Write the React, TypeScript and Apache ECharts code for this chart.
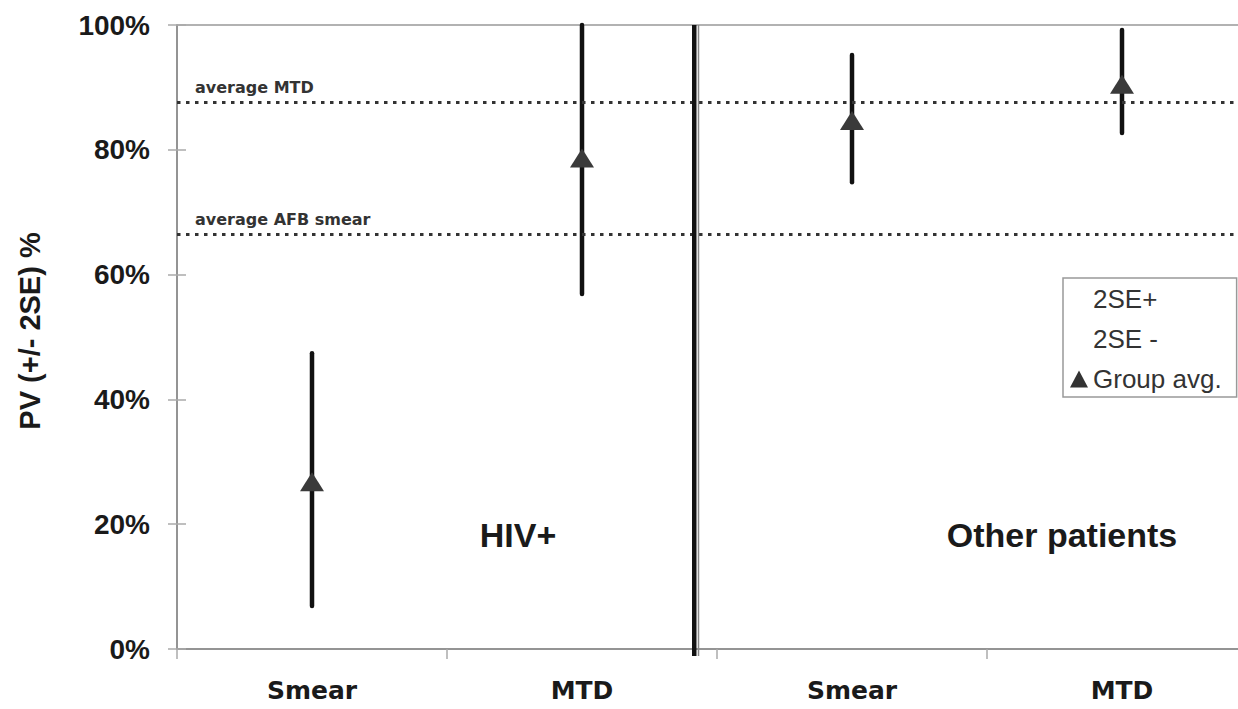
import React, { useEffect, useRef } from "react";
import * as echarts from "echarts";

const categories = ["Smear", "MTD", "Smear ", "MTD "];
const groupAvg = [26.8, 78.7, 84.7, 90.5];
const upper2SE = [47.4, 100, 95.2, 99.2];
const lower2SE = [6.9, 56.9, 74.8, 82.7];
const refLines = [
  { name: "average MTD", value: 87.6 },
  { name: "average AFB smear", value: 66.4 },
];
const yTicks = [0, 20, 40, 60, 80, 100];
const groupLabels = ["HIV+", "Other patients"];

const BOLD = "'Liberation Sans', Arial, sans-serif";

export default function App() {
  const ref = useRef<HTMLDivElement>(null);
  useEffect(() => {
    if (!ref.current) return;
    const chart = echarts.init(ref.current, null, { renderer: "svg" });
    const barRender = (params: any, api: any) => {
      const p1 = api.coord([api.value(0), api.value(1)]);
      const p2 = api.coord([api.value(0), api.value(2)]);
      return {
        type: "line",
        shape: { x1: p1[0], y1: p1[1], x2: p2[0], y2: p2[1] },
        style: { stroke: "#111", lineWidth: 4.5, lineCap: "round" },
      };
    };
    chart.setOption({
      animation: false,
      backgroundColor: "#fff",
      grid: {
        left: 177,
        top: 25,
        right: 0,
        bottom: 60,
        show: true,
        borderColor: "#999",
        borderWidth: 1.5,
        backgroundColor: "transparent",
      },
      legend: {
        orient: "vertical",
        left: 1063,
        top: 278,
        padding: [8, 15, 5, 7],
        itemWidth: 18,
        itemHeight: 17,
        itemGap: 14,
        borderColor: "#999",
        borderWidth: 1.5,
        backgroundColor: "#fff",
        selectedMode: false,
        textStyle: { fontFamily: BOLD, fontSize: 26, color: "#333" },
        data: [
          { name: "2SE+", icon: "rect", itemStyle: { color: "transparent", opacity: 0 } },
          { name: "2SE -", icon: "rect", itemStyle: { color: "transparent", opacity: 0 } },
          { name: "Group avg.", icon: "triangle", itemStyle: { color: "#333" } },
        ],
      },
      xAxis: {
        type: "category",
        data: categories,
        boundaryGap: true,
        axisLine: { lineStyle: { color: "#8a8a8a", width: 1.5 } },
        axisTick: { show: true, length: 10, lineStyle: { color: "#aaa", width: 1.5 } },
        axisLabel: {
          margin: 29,
          fontFamily: "'DejaVu Sans', sans-serif",
          fontWeight: "bold",
          fontSize: 25,
          color: "#1a1a1a",
          formatter: (v: string) => v.trim(),
        },
        splitLine: { show: false },
      },
      yAxis: [
        {
          type: "value",
          min: yTicks[0],
          max: yTicks[yTicks.length - 1],
          interval: 20,
          axisLine: { show: true, lineStyle: { color: "#8a8a8a", width: 1.5 } },
          axisTick: { show: true, length: 9, lineStyle: { color: "#aaa", width: 1.5 } },
          axisLabel: {
            margin: 27,
            fontFamily: BOLD,
            fontWeight: "bold",
            fontSize: 28,
            color: "#1a1a1a",
            formatter: "{value}%",
          },
          splitLine: { show: false },
        },
        {
          type: "value",
          min: yTicks[0],
          max: yTicks[yTicks.length - 1],
          interval: 20,
          position: "left",
          axisLine: { show: false },
          axisTick: { show: true, inside: true, length: 9, lineStyle: { color: "#aaa", width: 1.5 } },
          axisLabel: { show: false },
          splitLine: { show: false },
        },
      ],
      series: [
        {
          name: "2SE+",
          type: "custom",
          renderItem: barRender,
          encode: { x: 0, y: [1, 2] },
          data: categories.map((c, i) => [i, groupAvg[i], upper2SE[i]]),
          z: 3,
        },
        {
          name: "2SE -",
          type: "custom",
          renderItem: barRender,
          encode: { x: 0, y: [1, 2] },
          data: categories.map((c, i) => [i, lower2SE[i], groupAvg[i]]),
          z: 3,
        },
        {
          name: "Group avg.",
          type: "scatter",
          symbol: "triangle",
          symbolSize: [24, 19],
          itemStyle: { color: "#3a3a3a", opacity: 1 },
          data: categories.map((c, i) => [i, groupAvg[i]]),
          z: 5,
          markLine: {
            silent: true,
            symbol: ["none", "none"],
            lineStyle: { type: [3.5, 5.5], color: "#333", width: 3 },
            label: {
              show: true,
              position: "insideStartTop",
              distance: [18, 7],
              formatter: "{b}",
              fontFamily: "'DejaVu Sans', sans-serif",
              fontWeight: "bold",
              fontSize: 16,
              color: "#333",
            },
            data: refLines.map((r) => ({ name: r.name, yAxis: r.value })),
          },
        },
      ],
      graphic: [
        {
          type: "rect",
          shape: { x: 692, y: 25, width: 4.5, height: 631 },
          style: { fill: "#111" },
          z: 10,
        },
        {
          type: "line",
          shape: { x1: 698.5, y1: 25, x2: 698.5, y2: 656 },
          style: { stroke: "#888", lineWidth: 1.5 },
          z: 10,
        },
        {
          type: "text",
          x: 30,
          y: 331,
          rotation: Math.PI / 2,
          style: {
            text: "PV (+/- 2SE) %",
            fontFamily: BOLD,
            fontWeight: "bold",
            fontSize: 29,
            fill: "#1a1a1a",
            align: "center",
            verticalAlign: "middle",
          },
        },
        {
          type: "text",
          x: 518,
          y: 535,
          style: {
            text: groupLabels[0],
            fontFamily: BOLD,
            fontWeight: "bold",
            fontSize: 34,
            fill: "#1a1a1a",
            align: "center",
            verticalAlign: "middle",
          },
        },
        {
          type: "text",
          x: 1062,
          y: 535,
          style: {
            text: groupLabels[1],
            fontFamily: BOLD,
            fontWeight: "bold",
            fontSize: 34,
            fill: "#1a1a1a",
            align: "center",
            verticalAlign: "middle",
          },
        },
      ],
    });
    return () => chart.dispose();
  }, []);
  return (
    <div
      style={{
        position: "fixed",
        left: 0,
        top: 0,
        width: 1238,
        height: 709,
        overflow: "hidden",
        background: "#fff",
      }}
    >
      <div ref={ref} style={{ width: 1257, height: 709 }} />
    </div>
  );
}
